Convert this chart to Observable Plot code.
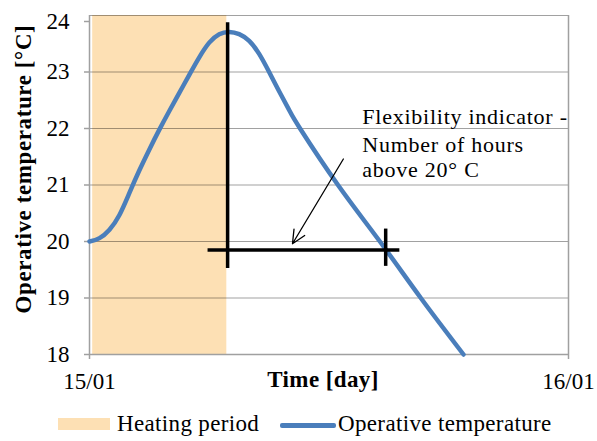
<!DOCTYPE html>
<html>
<head>
<meta charset="utf-8">
<script src="https://cdn.jsdelivr.net/npm/d3@7"></script>
<script src="https://cdn.jsdelivr.net/npm/@observablehq/plot@0.6"></script>
<style>
  html, body { margin: 0; padding: 0; background: #fff; }
  #wrap { position: relative; width: 597px; height: 441px; font-family: "Liberation Serif", "Times New Roman", serif; }
  #legend { position: absolute; left: 0; top: 405px; width: 597px; height: 36px; font-size: 23px; line-height: 23px; color: #000; letter-spacing: 0.35px; }
  #legend .sw { position: absolute; }
  #legend .lab { position: absolute; white-space: nowrap; }
</style>
</head>
<body>
<div id="wrap"><div id="chart"></div><div id="legend"></div></div>
<script>
// ---- data ----
const hours = [0, 0.5, 1.0, 1.5, 2.0, 2.5, 3.0, 3.5, 4.0, 4.5, 5.0, 5.5, 6.0, 6.5, 7.0, 7.5, 8.0, 8.5, 9.0, 9.5, 10.0, 10.55, 12.45, 14.55, 16.6, 18.74];
const temps = [20.0, 20.06, 20.21, 20.47, 20.86, 21.26, 21.63, 21.98, 22.31, 22.63, 22.95, 23.26, 23.52, 23.67, 23.71, 23.67, 23.55, 23.32, 23.0, 22.66, 22.33, 22.0, 21.0, 20.0, 19.0, 18.0];
const heatStart = [0.16];
const heatEnd = [6.88];
const yTicks = [18, 19, 20, 21, 22, 23, 24];
const xTicks = [0, 24];
const xTickLabels = ["15/01", "16/01"];
const yTitle = "Operative temperature [°C]";
const xTitle = "Time [day]";
const seriesNames = ["Heating period", "Operative temperature"];
// annotation geometry (hours, °C)
const peakLineX = [6.92], peakLineY1 = [19.52], peakLineY2 = [23.87];
const spanY = [19.85], spanX1 = [5.94], spanX2 = [15.55];
const endTickX = [14.84], endTickY1 = [19.56], endTickY2 = [20.22];
const arrowFrom = [12.72, 21.46], arrowTo = [10.17, 19.96];
const noteLines = ["Flexibility indicator -", "Number of hours", "above 20° C"];
const noteX = 13.67;
const noteY = [22.20, 21.71, 21.26];

const curve = hours.map((h, i) => ({h, t: temps[i]}));
const heat = heatStart.map((s, i) => ({x1: s, x2: heatEnd[i], y1: yTicks[0], y2: yTicks[yTicks.length - 1]}));
const notes = noteLines.map((s, i) => ({s, x: noteX, y: noteY[i]}));

const BLUE = "#4a7ebb", ORANGE = "#fde0b4", GRAY = "#a0a0a0";

const plot = Plot.plot({
  width: 597,
  height: 405,
  marginLeft: 89,
  marginRight: 29,
  marginTop: 15,
  marginBottom: 51,
  style: {fontFamily: "Liberation Serif, Times New Roman, serif", fontSize: "23px", background: "#fff", color: "#000"},
  x: {domain: [0, 24], axis: null},
  y: {domain: [18, 24], axis: null},
  marks: [
    Plot.rect(heat, {x1: "x1", x2: "x2", y1: "y1", y2: "y2", fill: ORANGE}),
    Plot.gridY(yTicks.slice(1), {stroke: "#000", strokeOpacity: 0.37, strokeWidth: 1}),
    Plot.ruleX([24], {stroke: GRAY, strokeWidth: 1.5}),
    Plot.ruleY([18], {stroke: GRAY, strokeWidth: 1.5}),
    Plot.ruleX([0], {stroke: GRAY, strokeWidth: 1.5}),
    Plot.axisY(yTicks.slice(0, -1), {tickSize: 5, tickPadding: 15, stroke: GRAY, strokeWidth: 1.5, fontSize: 23, label: null, tickFormat: (d) => String(d)}),
    Plot.axisY(yTicks.slice(-1), {tickSize: 5, tickPadding: 15, stroke: GRAY, strokeWidth: 1.5, fontSize: 23, label: null, tickFormat: (d) => String(d), dy: 6}),
    Plot.axisX(xTicks, {tickSize: 5, tickPadding: 13, stroke: GRAY, strokeWidth: 1.5, fontSize: 23, label: null, tickFormat: (d) => xTickLabels[xTicks.indexOf(d)]}),
    Plot.text([yTitle], {frameAnchor: "left", textAnchor: "middle", rotate: -90, dx: -66, dy: -16, fontWeight: "bold", fontSize: 23}),
    Plot.text([xTitle], {frameAnchor: "bottom", textAnchor: "middle", lineAnchor: "top", dx: -6, dy: 16, fontWeight: "bold", fontSize: 23}),
    Plot.line(curve, {x: "h", y: "t", stroke: BLUE, strokeWidth: 4.5, curve: "natural"}),
    Plot.ruleX(peakLineX, {x: (d) => d, y1: peakLineY1[0], y2: peakLineY2[0], stroke: "#000", strokeWidth: 3.5}),
    Plot.ruleY(spanY, {y: (d) => d, x1: spanX1[0], x2: spanX2[0], stroke: "#000", strokeWidth: 3.5}),
    Plot.ruleX(endTickX, {x: (d) => d, y1: endTickY1[0], y2: endTickY2[0], stroke: "#000", strokeWidth: 3.5}),
    Plot.arrow([{x1: arrowFrom[0], y1: arrowFrom[1], x2: arrowTo[0], y2: arrowTo[1]}], {x1: "x1", y1: "y1", x2: "x2", y2: "y2", stroke: "#000", strokeWidth: 1.3, headLength: 17, headAngle: 50}),
    Plot.text(notes, {x: "x", y: "y", text: "s", textAnchor: "start", lineAnchor: "middle", fontSize: 22})
  ]
});
document.getElementById("chart").appendChild(plot);
// widen some texts slightly to match the reference's glyph widths
const svgSel = d3.select(plot);
svgSel.selectAll("text").filter(function () { return noteLines.includes(this.textContent); })
  .style("letter-spacing", "0.75px");
svgSel.selectAll("text").filter(function () { return this.textContent === yTitle; })
  .style("letter-spacing", "0.6px");
svgSel.selectAll("text").filter(function () { return this.textContent === xTitle; })
  .style("letter-spacing", "0.4px");

// legend (HTML below the SVG)
const legend = document.getElementById("legend");
legend.innerHTML = `
  <div class="sw" style="left:58px;top:13px;width:52px;height:12px;background:${ORANGE}"></div>
  <div class="lab" style="left:117px;top:7px;">${seriesNames[0]}</div>
  <div class="sw" style="left:280px;top:18px;width:56px;height:4.5px;background:${BLUE};border-radius:2px"></div>
  <div class="lab" style="left:338px;top:7px;">${seriesNames[1]}</div>`;
</script>
</body>
</html>
